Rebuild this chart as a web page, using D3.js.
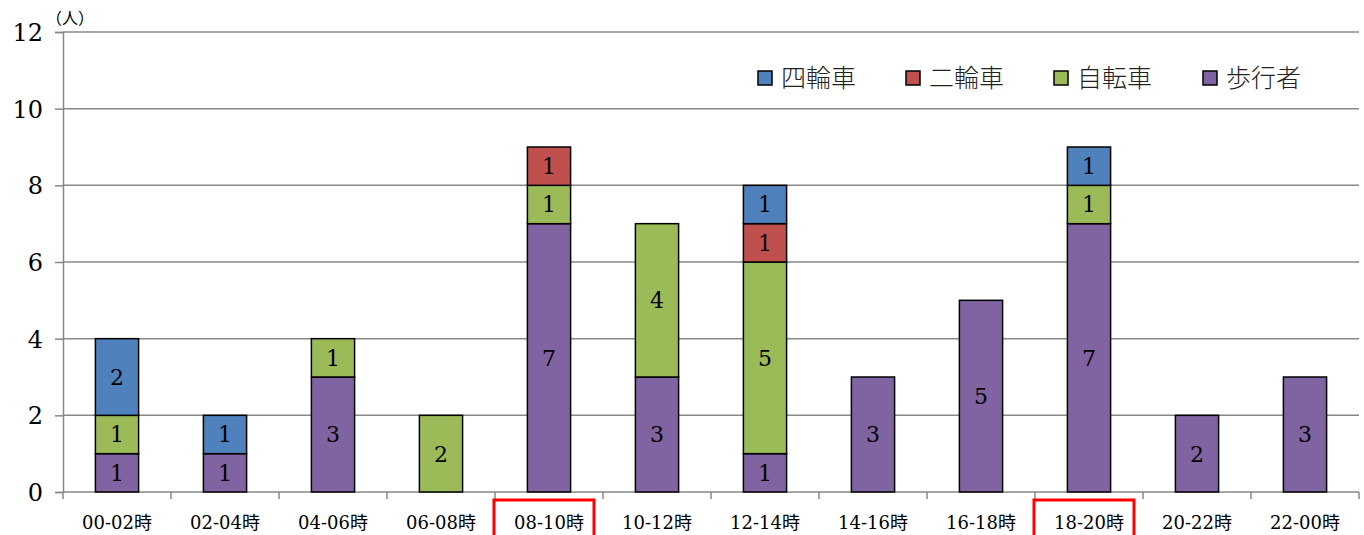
<!DOCTYPE html>
<html>
<head>
<meta charset="utf-8">
<script src="https://cdn.jsdelivr.net/npm/d3@7"></script>
<style>
  body { margin: 0; background: #fff; }
  svg text { font-family: "DejaVu Serif", "Noto Sans CJK JP", serif; }
</style>
</head>
<body>
<svg id="chart" width="1364" height="535"></svg>
<script>
const categories = ["00-02時", "02-04時", "04-06時", "06-08時", "08-10時", "10-12時",
  "12-14時", "14-16時", "16-18時", "18-20時", "20-22時", "22-00時"];
const seriesNames = ["歩行者", "自転車", "二輪車", "四輪車"];
const walkers = [1, 1, 3, 0, 7, 3, 1, 3, 5, 7, 2, 3];
const bicycles = [1, 0, 1, 2, 1, 4, 5, 0, 0, 1, 0, 0];
const motorbikes = [0, 0, 0, 0, 1, 0, 1, 0, 0, 0, 0, 0];
const cars = [2, 1, 0, 0, 0, 0, 1, 0, 0, 1, 0, 0];
const yTicks = [0, 2, 4, 6, 8, 10, 12];
const highlighted = ["08-10時", "18-20時"];
const legendOrder = ["四輪車", "二輪車", "自転車", "歩行者"];

const colors = { "四輪車": "#4F81BD", "二輪車": "#C0504D", "自転車": "#9BBB59", "歩行者": "#8064A2" };
const valuesBySeries = { "歩行者": walkers, "自転車": bicycles, "二輪車": motorbikes, "四輪車": cars };

const table = categories.map((c, i) => {
  const row = { cat: c };
  seriesNames.forEach((s) => (row[s] = valuesBySeries[s][i]));
  return row;
});

const margin = { top: 32, left: 63, right: 5, bottom: 43 };
const width = 1364 - margin.left - margin.right;
const height = 535 - margin.top - margin.bottom;

const svg = d3.select("#chart");
const g = svg.append("g").attr("transform", `translate(${margin.left},${margin.top})`);

const x = d3.scaleBand().domain(categories).range([0, width]).paddingInner(0.6).paddingOuter(0.3);
const y = d3.scaleLinear().domain([0, 12]).range([height, 0]);

// grid + y axis
const yAxis = g.append("g")
  .call(d3.axisLeft(y).tickValues(yTicks).tickSize(8).tickPadding(12));
yAxis.select(".domain").attr("stroke", "#888").attr("stroke-width", 1.5);
yAxis.selectAll(".tick line").attr("stroke", "#888").attr("stroke-width", 1.5);
yAxis.selectAll(".tick text").attr("font-size", 24).attr("fill", "#000").attr("dy", "0.35em");

g.append("g").selectAll("line")
  .data(yTicks.filter((d) => d > 0))
  .join("line")
  .attr("x1", 0).attr("x2", width)
  .attr("y1", (d) => y(d)).attr("y2", (d) => y(d))
  .attr("stroke", "#888").attr("stroke-width", 1.5);

// x axis: ticks at band boundaries
const xAxisG = g.append("g").attr("transform", `translate(0,${height})`);
xAxisG.append("line").attr("x1", 0).attr("x2", width).attr("stroke", "#888").attr("stroke-width", 1.5);
const step = x.step();
const bounds = d3.range(categories.length + 1).map((i) => x(categories[0]) - x.paddingOuter() * step + i * step);
xAxisG.selectAll(".bt").data(bounds).join("line")
  .attr("x1", (d) => d).attr("x2", (d) => d).attr("y1", 0).attr("y2", 7)
  .attr("stroke", "#888").attr("stroke-width", 1.5);
xAxisG.selectAll(".xl").data(categories).join("text")
  .attr("x", (d) => x(d) + x.bandwidth() / 2)
  .attr("y", 37)
  .attr("text-anchor", "middle")
  .attr("font-size", 18)
  .text((d) => d);
xAxisG.selectAll(".hl").data(highlighted).join("rect")
  .attr("x", (d) => x(d) + x.bandwidth() / 2 - 55)
  .attr("y", 8)
  .attr("width", 100)
  .attr("height", 40)
  .attr("fill", "none")
  .attr("stroke", "#FF0000")
  .attr("stroke-width", 3);

// stacked bars
const stacked = d3.stack().keys(seriesNames)(table);
const layers = g.append("g").selectAll("g").data(stacked).join("g")
  .attr("fill", (d) => colors[d.key]);
layers.selectAll("rect")
  .data((d) => d.filter((p) => p[1] - p[0] > 0))
  .join("rect")
  .attr("x", (d) => x(d.data.cat))
  .attr("y", (d) => y(d[1]))
  .attr("width", x.bandwidth())
  .attr("height", (d) => y(d[0]) - y(d[1]))
  .attr("stroke", "#000")
  .attr("stroke-width", 1.5);
layers.selectAll("text")
  .data((d) => d.filter((p) => p[1] - p[0] > 0))
  .join("text")
  .attr("x", (d) => x(d.data.cat) + x.bandwidth() / 2)
  .attr("y", (d) => (y(d[0]) + y(d[1])) / 2)
  .attr("dy", "0.36em")
  .attr("text-anchor", "middle")
  .attr("font-size", 22)
  .attr("fill", "#000")
  .text((d) => d[1] - d[0]);

// unit label
svg.append("text").attr("x", 46).attr("y", 24).attr("font-size", 16)
  .style("font-family", "'Noto Sans CJK JP'").text("（人）");

// legend
const legendX = [758, 906, 1054, 1203];
const legend = svg.append("g").selectAll("g").data(legendOrder).join("g")
  .attr("transform", (d, i) => `translate(${legendX[i]},78)`);
legend.append("rect").attr("x", 0).attr("y", -7).attr("width", 14).attr("height", 14)
  .attr("fill", (d) => colors[d]).attr("stroke", "#000").attr("stroke-width", 1.5);
legend.append("text").attr("x", 23).attr("y", 0).attr("dy", "0.36em")
  .attr("font-size", 25).attr("font-weight", 300).attr("fill", "#222")
  .style("font-family", "'Noto Sans CJK JP'").text((d) => d);
</script>
</body>
</html>
